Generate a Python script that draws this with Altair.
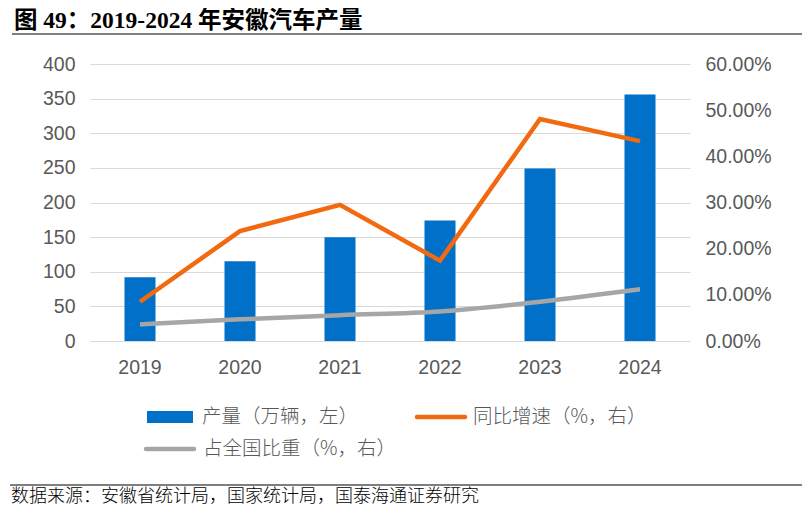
import altair as alt
import pandas as pd

years = ["2019", "2020", "2021", "2022", "2023", "2024"]
output = [92, 115, 150, 174, 249, 356]          # 产量（万辆）
yoy = [0.085, 0.238, 0.295, 0.174, 0.481, 0.433]  # 同比增速
share = [0.036, 0.047, 0.056, 0.064, 0.085, 0.112]  # 占全国比重

df = pd.DataFrame({"year": years, "output": output, "yoy": yoy, "share": share})

BLUE = "#0070C8"
ORANGE = "#F26A10"
GRAY = "#A6A6A6"
LBL = "#595959"
SANS = "Liberation Sans, Arial, Noto Sans CJK SC"
CJK = "Noto Sans CJK SC"
TITLE_FONT = "Liberation Serif, Times New Roman, Noto Sans CJK SC"
AX = 19.5

xenc = alt.X("year:O", title=None,
             scale=alt.Scale(paddingInner=0, paddingOuter=0),
             axis=alt.Axis(labelAngle=0, labelFontSize=AX, labelColor=LBL, labelFont=SANS,
                           ticks=False, domain=False, labelPadding=17))

bars = alt.Chart(df).mark_bar(size=31, color=BLUE).encode(
    x=xenc,
    y=alt.Y("output:Q", title=None,
            scale=alt.Scale(domain=[0, 400], nice=False),
            axis=alt.Axis(values=list(range(0, 401, 50)), labelFontSize=AX, labelColor=LBL,
                          labelFont=SANS, ticks=False, domain=False, labelPadding=15,
                          grid=True, gridColor="#D9D9D9", gridWidth=1.2))
)

yright = alt.Scale(domain=[0, 0.6], nice=False)
raxis = alt.Axis(orient="right", values=[0, 0.1, 0.2, 0.3, 0.4, 0.5, 0.6], format=".2%",
                 labelFontSize=AX, labelColor=LBL, labelFont=SANS, ticks=False,
                 domain=False, labelPadding=15, grid=False)

orange = alt.Chart(df).mark_line(color=ORANGE, strokeWidth=4.5).encode(
    x=xenc, y=alt.Y("yoy:Q", title=None, scale=yright, axis=raxis))
gray = alt.Chart(df).mark_line(color=GRAY, strokeWidth=4.5, interpolate="monotone").encode(
    x=xenc, y=alt.Y("share:Q", title=None, scale=yright, axis=raxis))
lines = alt.layer(orange, gray)

one = alt.Data(values=[{"k": 1}])

def txt(s, x, y, size, font, color, weight="normal"):
    return alt.Chart(one).mark_text(text=s, align="left", baseline="middle", fontSize=size,
                                    font=font, color=color, fontWeight=weight).encode(
        x=alt.value(x), y=alt.value(y))

def rule(x1, x2, y, color, width):
    return alt.Chart(one).mark_rule(color=color, strokeWidth=width).encode(
        x=alt.value(x1), x2=alt.value(x2), y=alt.value(y))

title = txt("图 49：2019-2024 年安徽汽车产量", -76, -43, 23.5, TITLE_FONT, "#000000", "bold")
title_line = rule(-78, 712, -30, "#000000", 1.2)
src_line = rule(-80, 712, 421, "#000000", 1.2)
src = txt("数据来源：安徽省统计局，国家统计局，国泰海通证券研究", -79, 433, 18, CJK, "#000000", 300)

leg_rect = alt.Chart(one).mark_rect(color=BLUE).encode(
    x=alt.value(57), x2=alt.value(103), y=alt.value(347), y2=alt.value(359))
leg_t1 = txt("产量（万辆，左）", 112, 353, 19.5, CJK, LBL, 300)
leg_o = alt.Chart(one).mark_rule(color=ORANGE, strokeWidth=4.5, strokeCap="round").encode(
    x=alt.value(327), x2=alt.value(375), y=alt.value(353))
leg_t2 = txt("同比增速（%，右）", 383, 353, 19.5, CJK, LBL, 300)
leg_g = alt.Chart(one).mark_rule(color=GRAY, strokeWidth=4.5, strokeCap="round").encode(
    x=alt.value(56), x2=alt.value(104), y=alt.value(385))
leg_t3 = txt("占全国比重（%，右）", 113, 385, 19.5, CJK, LBL, 300)

chart = alt.layer(
    bars, lines, title, title_line, src_line, src,
    leg_rect, leg_t1, leg_o, leg_t2, leg_g, leg_t3
).resolve_scale(y="independent").properties(
    width=600, height=277, autosize="none",
    padding={"left": 82, "top": 56, "right": 113, "bottom": 166},
    background="white"
).configure_view(stroke=None)

chart.save("out.html", embed_options={"renderer": "svg", "actions": False})
